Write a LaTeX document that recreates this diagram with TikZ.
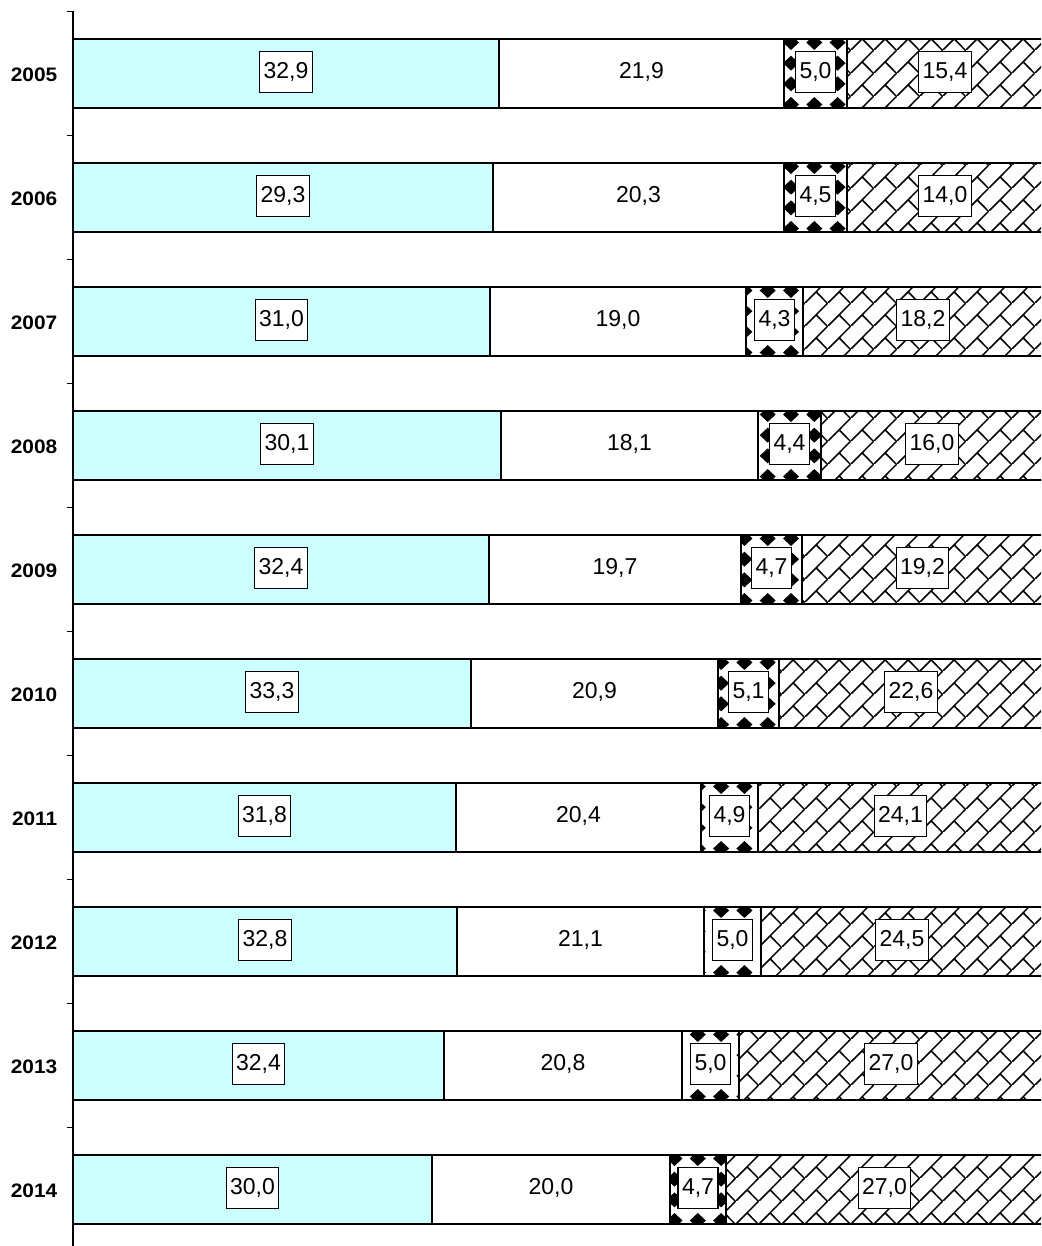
\documentclass[tikz,border=0pt]{standalone}
\usepackage{fontspec}
\setmainfont{Liberation Sans}
\usetikzlibrary{patterns.meta}

\definecolor{barcyan}{RGB}{204,255,255}

\tikzdeclarepattern{
  name=diagbrick,
  type=uncolored,
  bounding box={(0pt,0pt) and (23pt,23pt)},
  tile size={(23pt,23pt)},
  code={
    \draw[line width=1.6pt] (-2pt,-2pt) -- (25pt,25pt);
    \draw[line width=1.6pt] (11.5pt,11.5pt) -- (25pt,-2pt);
  }
}

\begin{document}
\begin{tikzpicture}[x=1pt,y=-1pt,
  seg/.style={draw=black,line width=1.6pt},
  axisline/.style={draw=black,line width=1.6pt},
  yearlab/.style={anchor=east,inner sep=0pt,font=\bfseries\fontsize{19.5}{22}\selectfont},
  plainlab/.style={font=\fontsize{23}{27}\selectfont},
  boxlab/.style={draw=black,fill=white,line width=1.2pt,font=\fontsize{23}{27}\selectfont,
                 minimum height=41pt,inner xsep=4pt,inner ysep=0pt}]
\clip (0,0) rectangle (1041,1246);
\fill[white] (0,0) rectangle (1041,1246);

\foreach \i/\yr/\a/\b/\c/\la/\lb/\lc/\ld in {
  0/2005/499/784/847/{32,9}/{21,9}/{5,0}/{15,4},
  1/2006/493/784/847/{29,3}/{20,3}/{4,5}/{14,0},
  2/2007/490/746/803/{31,0}/{19,0}/{4,3}/{18,2},
  3/2008/501/758/821/{30,1}/{18,1}/{4,4}/{16,0},
  4/2009/489/741/802/{32,4}/{19,7}/{4,7}/{19,2},
  5/2010/471/718/779/{33,3}/{20,9}/{5,1}/{22,6},
  6/2011/456/701/758/{31,8}/{20,4}/{4,9}/{24,1},
  7/2012/457/704/761/{32,8}/{21,1}/{5,0}/{24,5},
  8/2013/444/682/739/{32,4}/{20,8}/{5,0}/{27,0},
  9/2014/432/670/726/{30,0}/{20,0}/{4,7}/{27,0}}{
  \pgfmathsetmacro\yt{39+124*\i}
  \pgfmathsetmacro\yb{\yt+69}
  \pgfmathsetmacro\yc{\yt+34.5}
  \pgfmathsetmacro\ylab{\yc-1.5}
  \pgfmathsetmacro\xs{\b-mod(\b-791+233,23.3)}
  \draw[seg,fill=barcyan] (73,\yt) rectangle (\a,\yb);
  \draw[seg,fill=white] (\a,\yt) rectangle (\b,\yb);
  % sphere-like pattern: rows of black diamonds
  \begin{scope}
    \clip (\b,\yt) rectangle (\c,\yb);
    \fill[white] (\b,\yt) rectangle (\c,\yb);
    \foreach \m in {0,...,4}{
      \foreach \n in {0,...,3}{
        \fill[black] ({\xs+23.3*\m},{\yt+3.5+20.67*\n}) ++(-8,0) -- ++(8,-7.5) -- ++(8,7.5) -- ++(-8,7.5) -- cycle;
      }
    }
  \end{scope}
  \draw[seg] (\b,\yt) rectangle (\c,\yb);
  \fill[white] (\c,\yt) rectangle (1050,\yb);
  \fill[pattern=diagbrick] (\c,\yt) rectangle (1050,\yb);
  \draw[seg] (\c,\yt) rectangle (1050,\yb);
  \node[boxlab] (la\i) at ({(73+\a)/2},\ylab) {\la};
  \node[plainlab] (lb\i) at ({(\a+\b)/2},\ylab) {\lb};
  \node[boxlab] (lc\i) at ({(\b+\c)/2},\ylab) {\lc};
  \node[boxlab] (ld\i) at ({(\c+1043)/2},\ylab) {\ld};
  \node[yearlab] (yr\i) at (57.5,\yc+1) {\scalebox{1.07}[1]{\yr}};
}

\draw[axisline] (73,11.5) -- (73,1250);
\foreach \k in {0,...,9}{
  \draw[axisline] (66.5,{11.5+124*\k}) -- (73,{11.5+124*\k});
}
\end{tikzpicture}
\end{document}
